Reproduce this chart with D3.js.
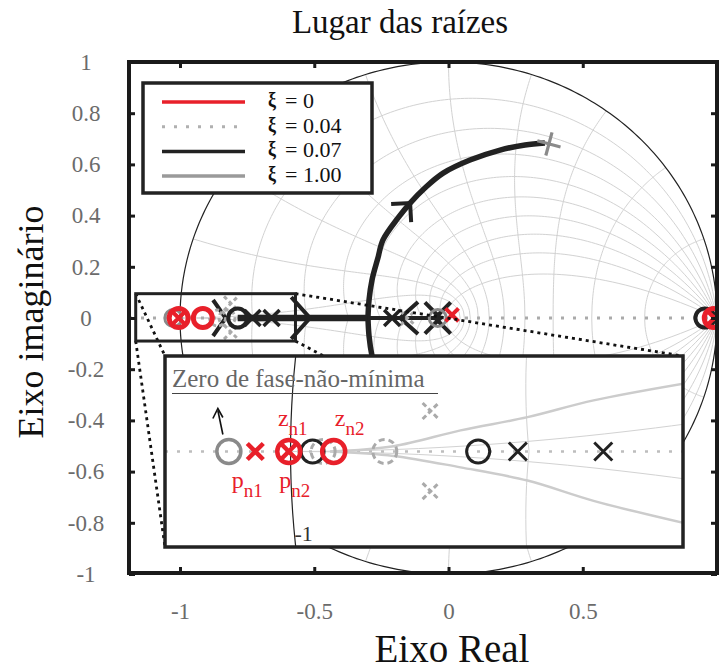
<!DOCTYPE html>
<html><head><meta charset="utf-8">
<script src="https://cdn.jsdelivr.net/npm/d3@7"></script>
<style>body{margin:0;background:#fff}svg{display:block}</style>
</head><body>
<svg id="c" width="719" height="669"></svg>
<script>
// ---------------- data ----------------
const xTicks = [-1, -0.5, 0, 0.5];
const xTickLabels = ["-1", "-0.5", "0", "0.5"];
const yTicks = [1, 0.8, 0.6, 0.4, 0.2, 0, -0.2, -0.4, -0.6, -0.8, -1];
const yTickLabels = ["1", "0.8", "0.6", "0.4", "0.2", "0", "-0.2", "-0.4", "-0.6", "-0.8", "-1"];
const gridZeta = [0.1, 0.2, 0.3, 0.4, 0.5, 0.6, 0.7, 0.8, 0.9];
const gridWnPi = [0.1, 0.2, 0.3, 0.4, 0.5, 0.6, 0.7, 0.8, 0.9, 1.0];
const legendLabels = ["= 0", "= 0.04", "= 0.07", "= 1.00"];
const legendColors = ["#e8202a", "#b0b0b0", "#222222", "#9a9a9a"];
const legendDash = [null, "3 9", null, null];

// root locus (xi = 0.07), upper branch after break-away
const arcRe = [-0.300, -0.296, -0.285, -0.263, -0.244, -0.188, -0.143, -0.088, -0.020, 0.080, 0.192, 0.285, 0.359];
const arcIm = [0.000, 0.070, 0.148, 0.234, 0.305, 0.391, 0.449, 0.508, 0.566, 0.617, 0.656, 0.676, 0.684];
const realThick = [-0.785, -0.300];
const realThin = [-0.300, -0.040];

// main-plot markers  [re, im]
const mainPoles007 = [[-0.730, 0], [-0.659, 0], [-0.210, 0]];
const mainZeros007 = [[-0.785, 0], [0.955, 0]];
const mainPoles0 = [[-1.005, 0], [0.013, 0.012], [0.990, 0]];
const mainZeros0 = [[-1.005, 0], [-0.915, 0], [0.988, 0]];
const mainZeros1 = [[-1.025, 0], [-0.040, 0]];
const mainEnd1 = [[0.374, 0.680]];
const mainPoles004 = [[-0.810, 0.057], [-0.810, -0.055], [-0.152, 0]];
const mainZeros004 = [[-0.860, 0], [-0.825, 0]];
// arrowheads on the locus [re, im, direction deg, arm length, half angle]
const mainArrows = [[-0.516, 0, 0, 28, 48], [-0.830, 0, 0, 22, 55], [-0.180, 0, 180, 24, 42],
                    [-0.030, 0, 0, 22, 45], [-0.050, 0, 180, 22, 45]];
const zoomBox = [[-1.165, 0.095], [-0.570, -0.090]];

// inset (zoom) data
const insetPoles0 = [[-1.040, 0], [-1.002, 0]];
const insetZeros0 = [[-1.002, 0], [-0.951, 0]];
const insetZeros007 = [[-0.975, 0], [-0.787, 0]];
const insetPoles007 = [[-0.742, 0], [-0.645, 0]];
const insetZeros1 = [[-1.070, 0]];
const insetZeros004 = [[-0.963, 0], [-0.893, 0]];
const insetPoles004 = [[-0.841, 0.046], [-0.841, -0.045]];
const insetLocus1Re = [-0.955, -0.883, -0.807, -0.731, -0.656, -0.554];
const insetLocus1Up = [0.000, 0.006, 0.024, 0.039, 0.058, 0.077];
const insetLocus1Dn = [0.000, -0.005, -0.018, -0.033, -0.056, -0.081];
const insetLabels = [
  {t: "z", s: "n1", re: -1.002, pos: "up", dx: 4},
  {t: "z", s: "n2", re: -0.951, pos: "up", dx: 16},
  {t: "p", s: "n1", re: -1.040, pos: "down", dx: -8},
  {t: "p", s: "n2", re: -1.002, pos: "down", dx: 6}
];

// ---------------- setup ----------------
const svg = d3.select("#c");
const FONT = "'Liberation Serif','Times New Roman','DejaVu Serif',serif";
const RED = "#e8202a", BLK = "#222222", GRY = "#8a8a8a", LGRY = "#aaaaaa", GRID = "#d2d2d2";

const x = d3.scaleLinear().domain([-1.19, 1]).range([129, 717]);
const y = d3.scaleLinear().domain([-1, 1]).range([574, 62]);
const ix = d3.scaleLinear().domain([-1.1425, -0.5545]).range([165, 683]);
const iy = d3.scaleLinear().domain([-0.1084, 0.1084]).range([547, 356]);

const defs = svg.append("defs");
defs.append("clipPath").attr("id", "clipMain").append("rect").attr("x", 129).attr("y", 62).attr("width", 588).attr("height", 511);
defs.append("clipPath").attr("id", "clipInset").append("rect").attr("x", 165).attr("y", 356).attr("width", 518).attr("height", 191);

// z-plane grid generators
function dampingLine(z, sgn) {
  const pts = [];
  for (let i = 0; i <= 180; i++) {
    const th = Math.PI * i / 180, r = Math.exp(-z / Math.sqrt(1 - z * z) * th);
    pts.push([r * Math.cos(th), sgn * r * Math.sin(th)]);
  }
  return pts;
}
function wnCurve(w, sgn) {
  const pts = [];
  for (let i = 0; i <= 100; i++) {
    const z = i / 100, r = Math.exp(-w * z), a = w * Math.sqrt(1 - z * z);
    pts.push([r * Math.cos(a), sgn * r * Math.sin(a)]);
  }
  return pts;
}
function unitCircle() {
  const pts = [];
  for (let i = 0; i <= 360; i++) { const a = Math.PI * i / 180; pts.push([Math.cos(a), Math.sin(a)]); }
  return pts;
}

function drawGrid(g, sx, sy) {
  const ln = d3.line().x(d => sx(d[0])).y(d => sy(d[1]));
  gridZeta.forEach(z => [1, -1].forEach(s => g.append("path").attr("d", ln(dampingLine(z, s)))
    .attr("fill", "none").attr("stroke", GRID).attr("stroke-width", 1)));
  gridWnPi.forEach(w => [1, -1].forEach(s => g.append("path").attr("d", ln(wnCurve(w * Math.PI, s)))
    .attr("fill", "none").attr("stroke", GRID).attr("stroke-width", 1)));
  g.append("path").attr("d", ln(unitCircle())).attr("fill", "none").attr("stroke", BLK).attr("stroke-width", 1.2);
}

function mO(g, cx, cy, r, col, sw, dash) {
  g.append("circle").attr("cx", cx).attr("cy", cy).attr("r", r).attr("fill", "none")
    .attr("stroke", col).attr("stroke-width", sw).attr("stroke-dasharray", dash || null);
}
function mX(g, cx, cy, h, col, sw, dash) {
  g.append("path").attr("d", `M${cx - h},${cy - h}L${cx + h},${cy + h}M${cx - h},${cy + h}L${cx + h},${cy - h}`)
    .attr("stroke", col).attr("stroke-width", sw).attr("fill", "none").attr("stroke-dasharray", dash || null);
}
function chevron(g, px, py, ang, L, half, col, sw) {
  const a = ang * Math.PI / 180, h = half * Math.PI / 180;
  const p1 = [px - L * Math.cos(a + h), py - L * Math.sin(a + h)];
  const p2 = [px - L * Math.cos(a - h), py - L * Math.sin(a - h)];
  g.append("path").attr("d", `M${p1[0]},${p1[1]}L${px},${py}L${p2[0]},${p2[1]}`)
    .attr("fill", "none").attr("stroke", col).attr("stroke-width", sw).attr("stroke-linecap", "butt");
}

// ---------------- main plot ----------------
const main = svg.append("g").attr("clip-path", "url(#clipMain)");
drawGrid(main.append("g"), x, y);

// dotted real axis (xi = 0.04 style)
main.append("line").attr("x1", x(-1.19)).attr("x2", x(1)).attr("y1", y(0)).attr("y2", y(0))
  .attr("stroke", LGRY).attr("stroke-width", 3).attr("stroke-dasharray", "3 9");

// xi = 0.07 locus
const lnMain = d3.line().x(d => x(d[0])).y(d => y(d[1])).curve(d3.curveCatmullRom);
const arcUp = arcRe.map((r, i) => [r, arcIm[i]]);
const arcDn = arcRe.map((r, i) => [r, -arcIm[i]]);
main.append("path").attr("d", lnMain(arcUp)).attr("fill", "none").attr("stroke", BLK).attr("stroke-width", 5.5);
main.append("path").attr("d", lnMain(arcDn)).attr("fill", "none").attr("stroke", BLK).attr("stroke-width", 5.5);
main.append("line").attr("x1", x(realThick[0])).attr("x2", x(realThick[1])).attr("y1", y(0)).attr("y2", y(0))
  .attr("stroke", BLK).attr("stroke-width", 6.5);
main.append("line").attr("x1", x(realThin[0])).attr("x2", x(realThin[1])).attr("y1", y(0)).attr("y2", y(0))
  .attr("stroke", BLK).attr("stroke-width", 4);

// arrowheads
{
  const i = 6, a0 = arcUp[i - 1], a1 = arcUp[i + 1];
  const ang = Math.atan2(y(a1[1]) - y(a0[1]), x(a1[0]) - x(a0[0])) * 180 / Math.PI;
  chevron(main, x(arcUp[i][0]), y(arcUp[i][1]), ang, 19, 45, BLK, 4);
}
mainArrows.forEach(d => chevron(main, x(d[0]), y(d[1]), d[2], d[3], d[4], BLK, 4));

// markers
mainZeros004.forEach(d => mO(main, x(d[0]), y(d[1]), 8, LGRY, 3, "4 3"));
mainPoles004.forEach(d => mX(main, x(d[0]), y(d[1]), 7, LGRY, 3, "4 3"));
mainZeros1.forEach(d => mO(main, x(d[0]), y(d[1]), 8.5, GRY, 3));
mainZeros007.forEach(d => mO(main, x(d[0]), y(d[1]), 9.5, BLK, 4));
mainPoles007.forEach(d => mX(main, x(d[0]), y(d[1]), 8, BLK, 3.5));
mainZeros0.forEach(d => mO(main, x(d[0]), y(d[1]), 9.5, RED, 5));
mainPoles0.forEach(d => mX(main, x(d[0]), y(d[1]), 6.5, RED, 4));
mainEnd1.forEach(d => {
  const cx = x(d[0]), cy = y(d[1]);
  main.append("path").attr("d", "M-12,0L12,0M0,-12L0,12").attr("transform", `translate(${cx},${cy}) rotate(15)`)
    .attr("stroke", GRY).attr("stroke-width", 3.2).attr("fill", "none");
});

// zoom box and connectors
const bx0 = x(zoomBox[0][0]), by0 = y(zoomBox[0][1]), bx1 = x(zoomBox[1][0]), by1 = y(zoomBox[1][1]);
const ixr = ix.range(), iyr = iy.range();
const conn = [[bx0, by0, ixr[0], iyr[1]], [bx1, by0, ixr[1], iyr[1]], [bx0, by1, ixr[0], iyr[0]], [bx1, by1, ixr[1], iyr[0]]];
conn.forEach(c => main.append("line").attr("x1", c[0]).attr("y1", c[1]).attr("x2", c[2]).attr("y2", c[3])
  .attr("stroke", "#111").attr("stroke-width", 2.8).attr("stroke-dasharray", "3 4"));
main.append("rect").attr("x", bx0).attr("y", by0).attr("width", bx1 - bx0).attr("height", by1 - by0)
  .attr("fill", "none").attr("stroke", BLK).attr("stroke-width", 3);

// ---------------- legend ----------------
const lg = svg.append("g");
lg.append("rect").attr("x", 143).attr("y", 83).attr("width", 229).attr("height", 110)
  .attr("fill", "#fff").attr("stroke", BLK).attr("stroke-width", 3.5);
legendLabels.forEach((t, i) => {
  const ly = 102 + i * 24.7;
  lg.append("line").attr("x1", 162).attr("x2", 245).attr("y1", ly).attr("y2", ly)
    .attr("stroke", legendColors[i]).attr("stroke-width", i === 1 ? 3 : 3.5).attr("stroke-dasharray", legendDash[i]);
  lg.append("text").attr("transform", `translate(272,${ly + 5}) scale(0.9,1.05)`).attr("text-anchor", "middle")
    .attr("font-family", FONT).attr("font-weight", "bold").attr("font-size", 20).attr("fill", "#111").text("ξ");
  lg.append("text").attr("x", 285).attr("y", ly + 6).attr("font-family", FONT).attr("font-size", 22)
    .attr("fill", "#111").text(t);
});

// ---------------- inset ----------------
const ins = svg.append("g");
ins.append("rect").attr("x", 165).attr("y", 356).attr("width", 518).attr("height", 191).attr("fill", "#fff");
const inc = ins.append("g").attr("clip-path", "url(#clipInset)");
drawGrid(inc.append("g"), ix, iy);
inc.append("line").attr("x1", 165).attr("x2", 683).attr("y1", iy(0)).attr("y2", iy(0))
  .attr("stroke", "#bdbdbd").attr("stroke-width", 2.5).attr("stroke-dasharray", "3 9");
const lnIn = d3.line().x(d => ix(d[0])).y(d => iy(d[1])).curve(d3.curveCatmullRom);
inc.append("path").attr("d", lnIn(insetLocus1Re.map((r, i) => [r, insetLocus1Up[i]])))
  .attr("fill", "none").attr("stroke", "#cccccc").attr("stroke-width", 2.5);
inc.append("path").attr("d", lnIn(insetLocus1Re.map((r, i) => [r, insetLocus1Dn[i]])))
  .attr("fill", "none").attr("stroke", "#cccccc").attr("stroke-width", 2.5);

insetZeros004.forEach(d => mO(inc, ix(d[0]), iy(d[1]), 12, LGRY, 3, "6 4"));
insetPoles004.forEach(d => mX(inc, ix(d[0]), iy(d[1]), 8, LGRY, 3, "5 3"));
insetZeros1.forEach(d => mO(inc, ix(d[0]), iy(d[1]), 12, GRY, 3.5));
insetZeros007.forEach(d => mO(inc, ix(d[0]), iy(d[1]), 11.5, BLK, 3));
insetPoles007.forEach(d => mX(inc, ix(d[0]), iy(d[1]), 9, BLK, 3));
insetZeros0.forEach(d => mO(inc, ix(d[0]), iy(d[1]), 11.5, RED, 4.5));
insetPoles0.forEach(d => mX(inc, ix(d[0]), iy(d[1]), 8, RED, 4.5));

// labels near red markers
insetLabels.forEach(l => {
  const cx = ix(l.re) + l.dx, base = l.pos === "up" ? iy(0) - 26 : iy(0) + 36;
  const t = inc.append("text").attr("x", cx).attr("y", base).attr("text-anchor", "middle")
    .attr("font-family", FONT).attr("font-size", 24).attr("fill", RED);
  t.append("tspan").text(l.t);
  t.append("tspan").attr("dy", 9).attr("font-size", 19).text(l.s);
});

// annotation
inc.append("text").attr("x", 172).attr("y", 387).attr("font-family", FONT).attr("font-size", 25)
  .attr("fill", "#666").text("Zero de fase-não-mínima");
inc.append("line").attr("x1", 172).attr("x2", 438).attr("y1", 393.5).attr("y2", 393.5).attr("stroke", "#444").attr("stroke-width", 1.2);
{
  const gx = ix(insetZeros1[0][0]), gy = iy(insetZeros1[0][1]);
  inc.append("line").attr("x1", gx - 6).attr("y1", gy - 17).attr("x2", gx - 11).attr("y2", gy - 41)
    .attr("stroke", "#111").attr("stroke-width", 1.6);
  inc.append("path").attr("d", `M${gx - 16},${gy - 33}L${gx - 11},${gy - 43}L${gx - 6},${gy - 34}`)
    .attr("fill", "none").attr("stroke", "#111").attr("stroke-width", 1.6);
}
inc.append("text").attr("x", ix(-1) + 4).attr("y", 541).attr("font-family", FONT).attr("font-size", 22)
  .attr("fill", "#333").text("-1");
ins.append("rect").attr("x", 165).attr("y", 356).attr("width", 518).attr("height", 191)
  .attr("fill", "none").attr("stroke", BLK).attr("stroke-width", 3.5);

// ---------------- frame & axes ----------------
svg.append("rect").attr("x", 129).attr("y", 62).attr("width", 588).attr("height", 511)
  .attr("fill", "none").attr("stroke", "#1a1a1a").attr("stroke-width", 4);

function styleAxis(g) {
  g.select(".domain").remove();
  g.selectAll(".tick line").attr("stroke", "#1a1a1a").attr("stroke-width", 3);
  g.selectAll("text").attr("font-family", FONT).attr("font-size", 23).attr("fill", "#6b6b6b");
}
const xFmt = d => xTickLabels[xTicks.indexOf(d)];
const yFmt = d => yTickLabels[yTicks.indexOf(d)];
svg.append("g").attr("transform", "translate(0,573)")
  .call(d3.axisBottom(x).tickValues(xTicks).tickSizeInner(-6).tickSizeOuter(0).tickPadding(30).tickFormat(xFmt))
  .call(styleAxis);
svg.append("g").attr("transform", "translate(0,62)")
  .call(d3.axisTop(x).tickValues(xTicks).tickSizeInner(-6).tickSizeOuter(0).tickFormat(""))
  .call(styleAxis);
svg.append("g").attr("transform", "translate(129,0)")
  .call(d3.axisLeft(y).tickValues(yTicks).tickSizeInner(-6).tickSizeOuter(0).tickPadding(8).tickFormat(yFmt))
  .call(styleAxis)
  .call(g => g.selectAll("text").attr("text-anchor", "middle").attr("x", -43));
svg.append("g").attr("transform", "translate(717,0)")
  .call(d3.axisRight(y).tickValues(yTicks).tickSizeInner(-6).tickSizeOuter(0).tickFormat(""))
  .call(styleAxis);

// titles
svg.append("text").attr("x", 400).attr("y", 33).attr("text-anchor", "middle").attr("font-family", FONT)
  .attr("font-size", 33).attr("fill", "#111").text("Lugar das raízes");
svg.append("text").attr("x", 452).attr("y", 662).attr("text-anchor", "middle").attr("font-family", FONT)
  .attr("font-size", 39).attr("fill", "#111").text("Eixo Real");
svg.append("text").attr("transform", "translate(43,322) rotate(-90)").attr("text-anchor", "middle")
  .attr("font-family", FONT).attr("font-size", 36).attr("fill", "#111").text("Eixo imaginário");
</script>
</body></html>
